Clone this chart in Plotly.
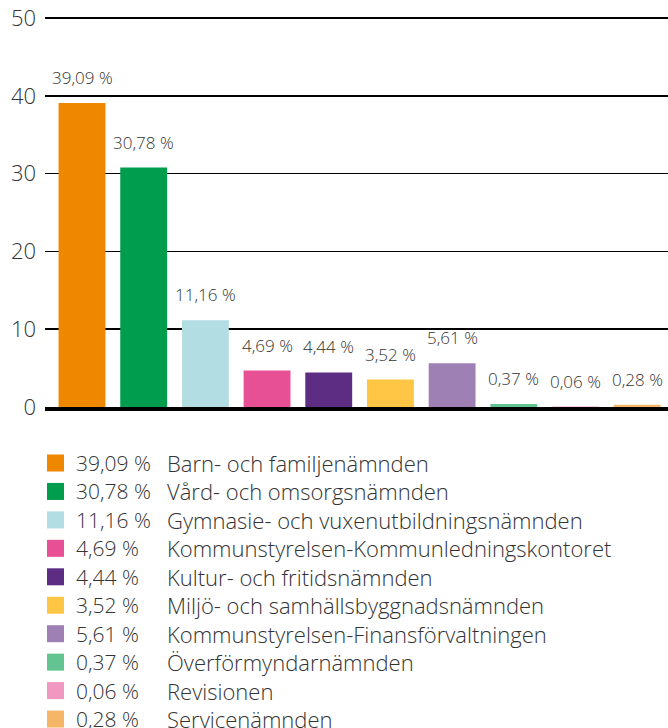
import plotly.graph_objects as go

categories = [
    "Barn- och familjenämnden",
    "Vård- och omsorgsnämnden",
    "Gymnasie- och vuxenutbildningsnämnden",
    "Kommunstyrelsen-Kommunledningskontoret",
    "Kultur- och fritidsnämnden",
    "Miljö- och samhällsbyggnadsnämnden",
    "Kommunstyrelsen-Finansförvaltningen",
    "Överförmyndarnämnden",
    "Revisionen",
    "Servicenämnden",
]
values = [39.09, 30.78, 11.16, 4.69, 4.44, 3.52, 5.61, 0.37, 0.06, 0.28]
colors = ["#F08700", "#009D4E", "#B2DDE3", "#E85096", "#5C2D83",
          "#FFC545", "#9E80B4", "#63C391", "#F198C1", "#F6B667"]
y_ticks = [0, 10, 20, 30, 40, 50]

W, H = 668, 728
ML, MR = 45, 0
MT = 16
BOTTOM = 407                # y pixel of value 0
MB = H - BOTTOM
PW = W - ML - MR
PH = BOTTOM - MT
PX_PER_UNIT = (407 - 18) / 50.0
Y_TOP = PH / PX_PER_UNIT

FONT = "'Open Sans', Lato, sans-serif"
TXT = "#333333"

def fmt(v):
    return f"{v:.2f}".replace(".", ",") + " %"

fig = go.Figure()
fig.add_trace(go.Bar(
    x=categories, y=values,
    marker=dict(color=colors, line=dict(width=0)),
    showlegend=False, hoverinfo="skip",
))

annotations = []
for c, v in zip(categories, values):
    annotations.append(dict(
        x=c, y=v, xref="x", yref="y", text=fmt(v), showarrow=False,
        yanchor="bottom", yshift=12,
        font=dict(family=FONT, size=17, color=TXT, weight=300),
    ))

shapes = []
row0, step = 463, 28.45
for i, (c, v, col) in enumerate(zip(categories, values, colors)):
    py = row0 + i * step
    yp = (BOTTOM - py) / PH
    shapes.append(dict(
        type="rect", xref="paper", yref="paper",
        x0=(47 - ML) / PW, x1=(64 - ML) / PW,
        y0=yp - 8.5 / PH, y1=yp + 8.5 / PH,
        fillcolor=col, line=dict(width=0),
    ))
    annotations.append(dict(
        x=(74 - ML) / PW, y=yp, xref="paper", yref="paper", text=fmt(v),
        showarrow=False, xanchor="left", yanchor="middle",
        font=dict(family=FONT, size=21, color=TXT, weight=300),
    ))
    annotations.append(dict(
        x=(165 - ML) / PW, y=yp, xref="paper", yref="paper", text=c,
        showarrow=False, xanchor="left", yanchor="middle",
        font=dict(family=FONT, size=22, color=TXT, weight=300),
    ))

fig.update_layout(
    width=W, height=H,
    margin=dict(l=ML, r=MR, t=MT, b=MB, pad=0, autoexpand=False),
    paper_bgcolor="white", plot_bgcolor="white",
    bargap=0.24,
    font=dict(family=FONT, color=TXT),
    xaxis=dict(range=[-0.6, 9.5], showticklabels=False, ticks="",
               showgrid=False, zeroline=False, automargin=False,
               showline=True, linecolor="black", linewidth=4),
    yaxis=dict(range=[0, Y_TOP], tickvals=y_ticks, ticks="",
               showgrid=True, gridcolor="black", gridwidth=1.5,
               zeroline=False, ticklabelstandoff=8, automargin=False,
               ticklabeloverflow="allow",
               tickfont=dict(family=FONT, size=22, color=TXT, weight=300)),
    annotations=annotations,
    shapes=shapes,
)

fig.write_html("out.html", config={"displayModeBar": False, "staticPlot": True})
with open("out.html", encoding="utf-8") as f:
    html = f.read()
html = html.replace("<body>", '<body style="margin:0;overflow:hidden">', 1)
with open("out.html", "w", encoding="utf-8") as f:
    f.write(html)
